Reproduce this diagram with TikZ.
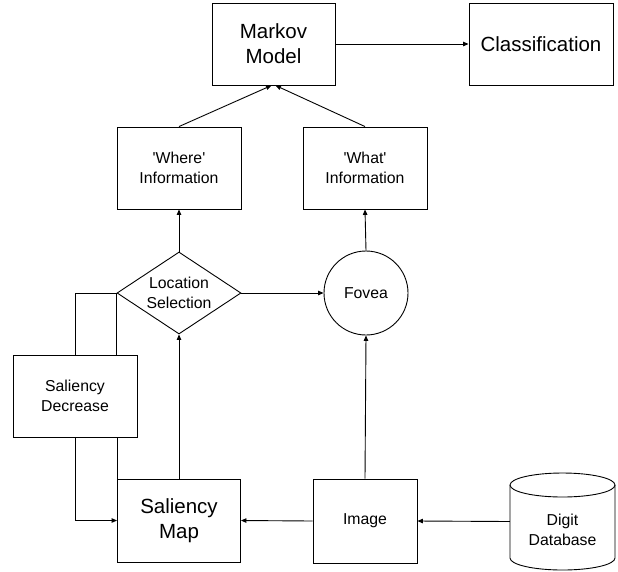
\documentclass[tikz,border=0pt]{standalone}
\usepackage{fontspec}
\setmainfont{Liberation Sans}
\usetikzlibrary{arrows.meta,shapes.geometric}

\tikzset{
  base/.style={draw=black, line width=0.9pt, inner sep=0pt, align=center},
  smalltext/.style={font=\fontsize{15.8}{19.5}\selectfont},
  bigtext/.style={font=\fontsize{20.5}{25}\selectfont},
  box/.style={base, rectangle, minimum width=#1},
  box/.default=124pt,
  link/.style={draw=black, line width=0.9pt, -{Triangle[length=5.5pt,width=4.5pt]}},
  plain/.style={draw=black, line width=0.9pt}
}

\begin{document}
\begin{tikzpicture}[x=1pt, y=-1pt]
  \useasboundingbox (0,0) rectangle (618,571);

  % top row
  \node[box=123pt, bigtext, minimum height=82pt] (mm) at (273.5,44) {Markov\\Model};
  \node[box=144pt, bigtext, minimum height=82pt] (cl) at (541,44) {Classification};

  % information boxes
  \node[box, smalltext, minimum height=82pt] (wh) at (179,168) {\textquotesingle Where\textquotesingle\\Information};
  \node[box, smalltext, minimum height=82pt] (wt) at (365,168) {\textquotesingle What\textquotesingle\\Information};

  % selection and fovea
  \node[base, diamond, aspect=1.5, smalltext, minimum width=124pt, minimum height=82pt] (ls) at (179,293) {Location\\Selection};
  \node[base, circle, smalltext, minimum size=84pt] (fv) at (366,293) {Fovea};

  % lower boxes
  \node[box, smalltext, minimum height=82pt] (sd) at (75,396) {Saliency\\Decrease};
  \node[box=123pt, bigtext, minimum height=83pt] (sm) at (179,520.5) {Saliency\\Map};
  \node[box=104pt, smalltext, minimum height=84pt] (im) at (365,521) {Image};

  % digit database cylinder
  \node[inner sep=0pt, minimum width=105pt, minimum height=97pt] (db) at (562.5,521.5) {};
  \node[smalltext, align=center] (dbt) at (562.5,530) {Digit\\Database};
  \draw[plain] (562.5,485) ellipse [x radius=52.5pt, y radius=12pt];
  \draw[plain] (510,485) -- (510,558) arc [start angle=180, end angle=360, x radius=52.5pt, y radius=12pt] -- (615,485);

  % connectors
  \draw[link] (mm.east) -- (cl.west);
  \draw[link] (wh.north) -- ([xshift=-2pt]mm.south);
  \draw[link] (wt.north) -- ([xshift=2pt]mm.south);
  \draw[link] (ls.north) -- (wh.south);
  \draw[link] (fv.north) -- (wt.south);
  \draw[link] (ls.east) -- (fv.west);
  \draw[link] (sm.north) -- (ls.south);
  \draw[link] (im.north) -- (fv.south);
  \draw[link] (im.west) -- (sm.east);
  \draw[link] (db.west) -- (im.east);

  % saliency decrease feedback loop
  \draw[plain] (ls.west) -| (sd.north);
  \draw[plain] (ls.west) -- (ls.west |- sd.north);
  \draw[plain] (sd.south -| sm.north west) -- (sm.north west);
  \draw[link] (sd.south) |- (sm.west);
\end{tikzpicture}
\end{document}
